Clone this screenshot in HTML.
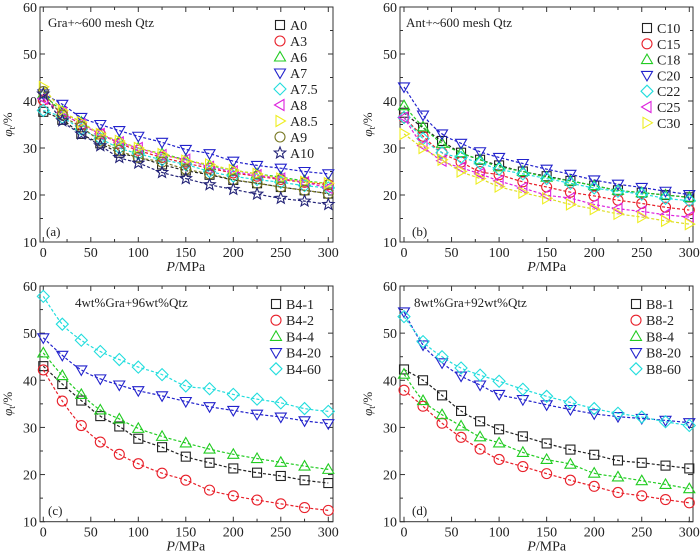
<!DOCTYPE html>
<html><head><meta charset="utf-8"><style>
body{margin:0;background:#fff}
svg{display:block;font-family:"Liberation Serif",serif}
</style></head><body>
<svg id="fig" width="700" height="559" viewBox="0 0 700 559" xmlns="http://www.w3.org/2000/svg"></svg>
<script>
const pressures=[0,20,40,60,80,100,125,150,175,200,225,250,275,300];
const xTicks=[0,50,100,150,200,250,300];
const yTicks=[10,20,30,40,50,60];
const seriesA_names=["A0","A3","A6","A7","A7.5","A8","A8.5","A9","A10"];
const A0=[37.7,36,33,31,29,28,26.5,25.2,24.3,23.2,22.5,21.7,21,20.3];
const A3=[40.2,37.5,35,33,31,29.5,28,26.8,25.7,24.7,24,23.3,22.7,22.2];
const A6=[41.5,37.8,35.5,33,31.5,30,28.8,27.5,26.3,25.3,24.5,23.8,23,22.5];
const A7=[41.5,39.3,36.5,35,33.7,32.5,31.2,29.7,28.8,27.2,26.3,25.7,25,24.5];
const A75=[38,36.5,34,32,30,28.8,27.5,26.5,25,24,23.3,22.7,22,21.5];
const A8=[40.5,37.5,35,33,31.2,30,28.5,27.5,26,25,24.2,23.5,22.7,21.5];
const A85=[43,38,35.5,33,31.5,30,28.7,27.3,26.5,25.3,24.5,23.5,22.8,22.5];
const A9=[42,37,34.5,31.5,29.5,28,27,25.5,24.5,23.3,22.5,21.7,21,20.3];
const A10=[41.5,35.8,33,30.5,28,26.8,24.8,23.5,22.2,21.2,20.2,19.3,18.7,18];
const C10=[37.5,34.3,31.5,29,27.5,26.3,25,24,23,22,21,20.5,20,19.5];
const C15=[36.5,32.5,29,27,25,24.3,22.8,21.7,20.6,19.8,18.9,18.2,17.4,16.8];
const C18=[39,34.5,31,29,27.5,26,25,23.8,23,22,21,20.5,20,19.5];
const C20=[43,37,33,31,29.2,28,26.7,25.5,24.4,23.2,22.3,21.6,20.8,20.1];
const C22=[36.5,32,29,28,26.8,25.5,24.5,23.5,22.5,21.5,20.8,20.2,19.3,18.8];
const C25=[36.5,30.5,27.3,25.8,24.5,23,21.5,20,19.3,18,17.1,16.5,15.8,15.3];
const C30=[33,30,27.5,25,23.5,21.8,20.5,19.3,18,17,16,15.3,14.5,13.8];
const B41=[43,39.2,35.7,32.4,30.2,27.6,25.8,23.8,22.5,21.3,20.4,19.7,18.8,18.2];
const B42=[42.2,35.6,30.4,26.9,24.3,22.3,20.3,18.8,16.7,15.5,14.6,13.8,13,12.4];
const B44=[45.8,41,37,33.7,31.8,29.8,28.1,26.7,25.4,24.3,23.4,22.6,21.8,21.1];
const B420=[49,45.3,42.2,40.3,39,37.8,36.7,35.5,34.4,33.6,32.8,32.2,31.4,30.8];
const B460=[57.8,51.9,48.5,46.1,44.4,42.8,41.2,38.8,38.2,37,36,35.2,34,33.4];
const B81=[42.3,40,36.8,33.5,31.3,29.6,28.1,26.6,25.3,24.2,23,22.5,21.9,21.3];
const B82=[37.9,34.5,30.9,27.9,25.4,23.2,21.7,20.2,18.8,17.5,16.2,15.5,14.7,14];
const B84=[41.3,35.7,32.7,30.3,28,26.7,24.7,23.2,22.2,20.3,19.5,18.7,17.9,17];
const B820=[54.5,47.5,43.7,40.9,39,37,35.9,34.8,33.8,32.9,32.3,31.9,31.5,31];
const B860=[53.5,48.2,45,42.6,41.1,39.8,38.1,36.6,35.3,34,33,32.2,31.2,30.4];

const NS="http://www.w3.org/2000/svg";
const svg=document.getElementById('fig');
function mk(t,a,p){const e=document.createElementNS(NS,t);for(const k in a)e.setAttribute(k,a[k]);(p||svg).appendChild(e);return e;}

const panels=[
 {id:'a',x0:43.3,x300:328.3,bl:40,br:333,yTop:7,yBot:242,title:'Gra+~600 mesh Qtz',tx:48,ty:27,lab:'(a)',lx:46,ly:236,legX:280,legY:25,legStep:16,
  series:[["A0",A0,"#222","sq"],["A3",A3,"#e8202a","ci"],["A6",A6,"#22cc22","tu"],["A7",A7,"#2222cc","td"],["A7.5",A75,"#22dddd","di"],["A8",A8,"#dd22dd","tl"],["A8.5",A85,"#eeee22","tr"],["A9",A9,"#777722","ci"],["A10",A10,"#222277","st"]]},
 {id:'b',x0:404,x300:689.3,bl:400,br:693,yTop:7,yBot:242,title:'Ant+~600 mesh Qtz',tx:406,ty:27,lab:'(b)',lx:412,ly:236,legX:647,legY:28,legStep:15.8,
  series:[["C10",C10,"#222","sq"],["C15",C15,"#e8202a","ci"],["C18",C18,"#22cc22","tu"],["C20",C20,"#2222cc","td"],["C22",C22,"#22dddd","di"],["C25",C25,"#dd22dd","tl"],["C30",C30,"#eeee22","tr"]]},
 {id:'c',x0:43.3,x300:328.3,bl:40,br:333,yTop:286,yBot:521.7,title:'4wt%Gra+96wt%Qtz',tx:75,ty:307,lab:'(c)',lx:48,ly:515,legX:276,legY:304,legStep:16.2,
  series:[["B4-1",B41,"#222","sq"],["B4-2",B42,"#e8202a","ci"],["B4-4",B44,"#22cc22","tu"],["B4-20",B420,"#2222cc","td"],["B4-60",B460,"#22dddd","di"]]},
 {id:'d',x0:404,x300:689.3,bl:400,br:693,yTop:286,yBot:521.7,title:'8wt%Gra+92wt%Qtz',tx:414,ty:307,lab:'(d)',lx:412,ly:515,legX:636,legY:304,legStep:16.2,
  series:[["B8-1",B81,"#222","sq"],["B8-2",B82,"#e8202a","ci"],["B8-4",B84,"#22cc22","tu"],["B8-20",B820,"#2222cc","td"],["B8-60",B860,"#22dddd","di"]]}
];

function marker(g,type,x,y,c){
 const r=5,a={fill:'none',stroke:c,'stroke-width':1.1};
 if(type==='sq')return mk('rect',Object.assign({x:x-4.5,y:y-4.5,width:9,height:9},a),g);
 if(type==='ci')return mk('circle',Object.assign({cx:x,cy:y,r:5},a),g);
 let pts;
 if(type==='tu')pts=[[x,y-5.5],[x+5.5,y+4],[x-5.5,y+4]];
 if(type==='td')pts=[[x,y+5.5],[x+5.5,y-4],[x-5.5,y-4]];
 if(type==='tl')pts=[[x-5.5,y],[x+4,y-5.5],[x+4,y+5.5]];
 if(type==='tr')pts=[[x+5.5,y],[x-4,y-5.5],[x-4,y+5.5]];
 if(type==='di')pts=[[x,y-6],[x+6,y],[x,y+6],[x-6,y]];
 if(type==='st'){pts=[];for(let i=0;i<10;i++){const rr=i%2?2.6:6,an=-Math.PI/2+i*Math.PI/5;pts.push([x+rr*Math.cos(an),y+rr*Math.sin(an)]);}}
 return mk('polygon',Object.assign({points:pts.map(p=>p.join(',')).join(' ')},a),g);
}

panels.forEach(p=>{
 const g=mk('g',{});
 
 
 const X=v=>p.x0+(p.x300-p.x0)*v/300;
 const Y=v=>p.yBot-(p.yBot-p.yTop)*(v-10)/50;
 const box=mk('rect',{x:p.bl,y:p.yTop,width:p.br-p.bl,height:p.yBot-p.yTop,fill:'none',stroke:'#333','stroke-width':1},g);
 
 
 // ticks
 for(let v=0;v<=300;v+=25){const x=X(v),len=v%50===0?5:3;
  mk('line',{x1:x,x2:x,y1:p.yBot,y2:p.yBot-len,stroke:'#333'},g);
  mk('line',{x1:x,x2:x,y1:p.yTop,y2:p.yTop+len,stroke:'#333'},g);}
 for(let v=10;v<=60;v+=5){const y=Y(v),len=v%10===0?5:3;
  mk('line',{x1:p.bl,x2:p.bl+len,y1:y,y2:y,stroke:'#333'},g);
  mk('line',{x1:p.br,x2:p.br-len,y1:y,y2:y,stroke:'#333'},g);}
 xTicks.forEach(v=>{const t=mk('text',{x:X(v),y:p.yBot+15,'text-anchor':'middle','font-size':14,fill:'#222'},g);t.textContent=v;
  });
 yTicks.forEach(v=>{const t=mk('text',{x:p.bl-3,y:Y(v)+5,'text-anchor':'end','font-size':14,fill:'#222'},g);t.textContent=v;
  });
 const xt=mk('text',{x:(p.x0+p.x300)/2,y:p.yBot+29,'text-anchor':'middle','font-size':14,fill:'#222'},g);
 xt.innerHTML='<tspan font-style="italic">P</tspan>/MPa';
 
 const yc=(p.yTop+p.yBot)/2;
 const yt=mk('text',{x:0,y:0,transform:`translate(${p.bl-28},${yc}) rotate(-90)`,'text-anchor':'middle','font-size':13,fill:'#222'},g);
 yt.innerHTML='<tspan font-style="italic">φ</tspan><tspan font-size="9" dy="3">t</tspan><tspan dy="-3">/%</tspan>';
 
 const tt=mk('text',{x:p.tx,y:p.ty,'font-size':13,fill:'#222'},g);tt.textContent=p.title;
 
 const lb=mk('text',{x:p.lx,y:p.ly,'font-size':13,fill:'#222'},g);lb.textContent=p.lab;
 
 p.series.forEach((s,i)=>{
  const [name,vals,col,mt]=s;
  const sg=mk('g',{},g);
  
  
  const pts=vals.map((v,j)=>[X(pressures[j]),Y(v)]);
  let d='M'+pts[0].join(',');
  for(let j=0;j<pts.length-1;j++){const p0=pts[j-1]||pts[j],p1=pts[j],p2=pts[j+1],p3=pts[j+2]||p2;
   d+=` C${p1[0]+(p2[0]-p0[0])/6},${p1[1]+(p2[1]-p0[1])/6} ${p2[0]-(p3[0]-p1[0])/6},${p2[1]-(p3[1]-p1[1])/6} ${p2[0]},${p2[1]}`;}
  const ln=mk('path',{d:d,fill:'none',stroke:col==='#eeee22'?'#dddd22':col,'stroke-width':1.2,'stroke-dasharray':'3,2'},sg);
  
  pts.forEach(q=>{const m=marker(sg,mt,q[0],q[1],col);
   });
  const ly=p.legY+i*p.legStep;
  const le=mk('g',{},g);
  
  
  marker(le,mt,p.legX,ly,col);
  const t=mk('text',{x:p.legX+10,y:ly+5,'font-size':14,fill:'#222'},le);t.textContent=name;
 });
});
</script>
</body></html>
